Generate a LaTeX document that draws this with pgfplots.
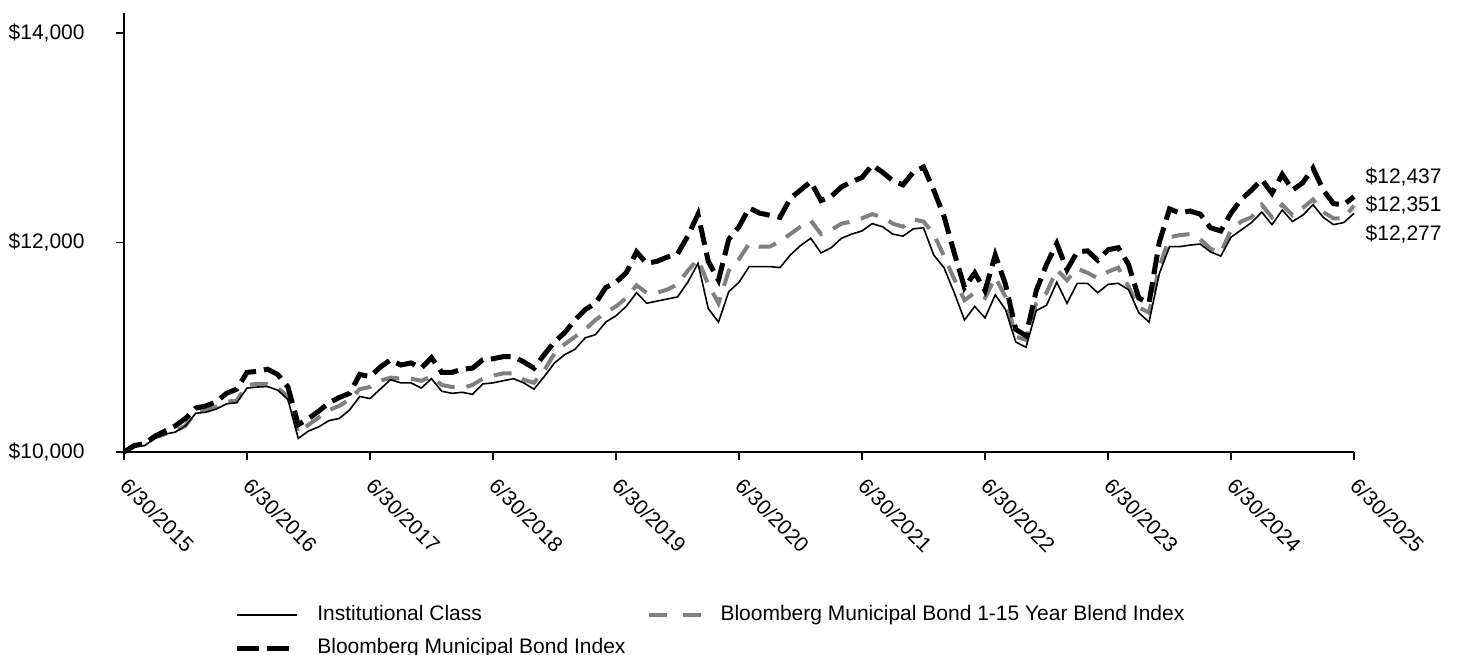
\documentclass[border=0pt]{standalone}
\usepackage{fontspec}
\setmainfont{Liberation Sans}
\usepackage{pgfplots}
\usepackage{pgfplotstable}
\pgfplotsset{compat=1.18}

\definecolor{blendgray}{RGB}{128,128,128}

% growth of $10,000, month index 0 = 6/30/2015
\pgfplotstableread{
m inst muni blend
0 10000 10000 10000
1 10060 10060 10070
2 10060 10080 10070
3 10130 10150 10140
4 10170 10200 10170
5 10190 10250 10200
6 10250 10320 10250
7 10370 10420 10380
8 10380 10440 10400
9 10410 10480 10430
10 10460 10560 10480
11 10470 10600 10490
12 10610 10760 10640
13 10620 10770 10650
14 10625 10790 10650
15 10590 10740 10610
16 10500 10620 10530
17 10130 10260 10180
18 10200 10320 10260
19 10240 10390 10330
20 10300 10470 10400
21 10320 10520 10440
22 10400 10560 10500
23 10530 10740 10600
24 10510 10720 10620
25 10600 10810 10680
26 10690 10880 10710
27 10660 10830 10700
28 10660 10850 10700
29 10610 10800 10680
30 10700 10900 10720
31 10580 10760 10640
32 10560 10760 10620
33 10570 10790 10610
34 10550 10800 10640
35 10650 10880 10700
36 10660 10890 10730
37 10680 10910 10750
38 10700 10910 10750
39 10660 10860 10690
40 10600 10800 10660
41 10720 10930 10780
42 10850 11050 10940
43 10930 11140 11030
44 10980 11260 11100
45 11090 11360 11170
46 11120 11420 11260
47 11240 11570 11330
48 11300 11620 11390
49 11390 11710 11470
50 11520 11910 11590
51 11420 11800 11520
52 11440 11820 11520
53 11460 11860 11550
54 11480 11890 11600
55 11620 12060 11730
56 11800 12270 11840
57 11370 11820 11600
58 11240 11640 11420
59 11530 12030 11730
60 11620 12150 11840
61 11770 12330 11990
62 11770 12280 11960
63 11770 12260 11960
64 11760 12240 12010
65 11880 12420 12080
66 11970 12500 12150
67 12040 12580 12210
68 11900 12400 12080
69 11950 12440 12120
70 12040 12530 12180
71 12080 12580 12200
72 12110 12620 12230
73 12180 12740 12270
74 12150 12670 12240
75 12080 12590 12180
76 12060 12550 12150
77 12130 12670 12220
78 12140 12720 12200
79 11880 12500 12080
80 11760 12250 11870
81 11520 11900 11650
82 11260 11570 11450
83 11390 11710 11520
84 11280 11540 11470
85 11500 11880 11670
86 11360 11600 11480
87 11050 11170 11100
88 11000 11110 11070
89 11350 11540 11420
90 11400 11790 11520
91 11620 11990 11740
92 11420 11740 11640
93 11610 11910 11750
94 11610 11920 11710
95 11520 11830 11660
96 11600 11930 11720
97 11610 11950 11760
98 11550 11790 11580
99 11330 11470 11380
100 11240 11420 11330
101 11700 12000 11760
102 11960 12320 12050
103 11960 12280 12070
104 11975 12300 12080
105 11985 12270 12030
106 11910 12140 11940
107 11870 12110 11900
108 12050 12280 12120
109 12120 12410 12200
110 12190 12500 12240
111 12290 12600 12360
112 12170 12470 12240
113 12310 12650 12360
114 12200 12500 12260
115 12260 12570 12330
116 12360 12710 12410
117 12240 12500 12290
118 12170 12370 12230
119 12190 12360 12230
120 12277 12437 12351
}\growth

\begin{document}
\begin{tikzpicture}[font=\fontsize{10.5}{12.6}\selectfont]
\path[use as bounding box] (-62pt,-101pt) rectangle (666.5pt,226pt);
\begin{axis}[
    at={(0pt,0pt)}, anchor=south west,
    scale only axis,
    width=615pt, height=219.5pt,
    xmin=0, xmax=120,
    ymin=10000, ymax=14190,
    axis lines=left,
    axis line style={-, line width=0.9pt},
    tick align=outside,
    major tick length=4pt,
    tick style={line width=0.9pt, black},
    xtick={0,12,...,120},
    xticklabels={6/30/2015,6/30/2016,6/30/2017,6/30/2018,6/30/2019,6/30/2020,6/30/2021,6/30/2022,6/30/2023,6/30/2024,6/30/2025},
    ytick={10000,12000,14000},
    yticklabels={{\$10,000},{\$12,000},{\$14,000}},
    tick label style={font=\fontsize{10.5}{12.6}\selectfont},
    xticklabel style={yshift=-11pt, rotate=-45, anchor=west, inner sep=0pt},
    yticklabel style={anchor=east, inner sep=0pt, xshift=-15.5pt},
    clip=false,
    legend columns=2,
    legend cell align=left,
    legend image code/.code={\draw[#1] (0pt,0pt) -- (30pt,0pt);},
    legend style={
        at={(0.0894,-0.3465)}, anchor=north west,
        draw=none, fill=none, inner sep=0pt,
        font=\fontsize{10.5}{12.6}\selectfont,
        row sep=6pt,
        nodes={inner sep=0pt, text height=8pt, text depth=2.5pt},
        /tikz/every odd column/.append style={column sep=9pt},
        /tikz/every even column/.append style={column sep=10.5pt},
    },
]
\addplot[forget plot, blendgray, line width=2pt, dash pattern=on 9pt off 6pt] table[x=m, y=blend] {\growth};
\addplot[forget plot, black, line width=2.5pt, dash pattern=on 10pt off 4pt] table[x=m, y=muni] {\growth};
\addplot[forget plot, black, line width=0.8pt] table[x=m, y=inst] {\growth};

\addlegendimage{black, line width=0.8pt}
\addlegendentry{Institutional Class}
\addlegendimage{legend image code/.code={\draw[blendgray, line width=2pt, dash pattern=on 9pt off 8pt] (0pt,0pt) -- (26pt,0pt);}}
\addlegendentry{Bloomberg Municipal Bond 1-15 Year Blend Index}
\addlegendimage{black, line width=2.5pt, dash pattern=on 11pt off 4pt}
\addlegendentry{Bloomberg Municipal Bond Index}

\node[anchor=west, inner sep=0pt] at (axis cs:121.1,12625) {\$12,437};
\node[anchor=west, inner sep=0pt] at (axis cs:121.1,12358) {\$12,351};
\node[anchor=west, inner sep=0pt] at (axis cs:121.1,12081) {\$12,277};
\end{axis}
\end{tikzpicture}
\end{document}
